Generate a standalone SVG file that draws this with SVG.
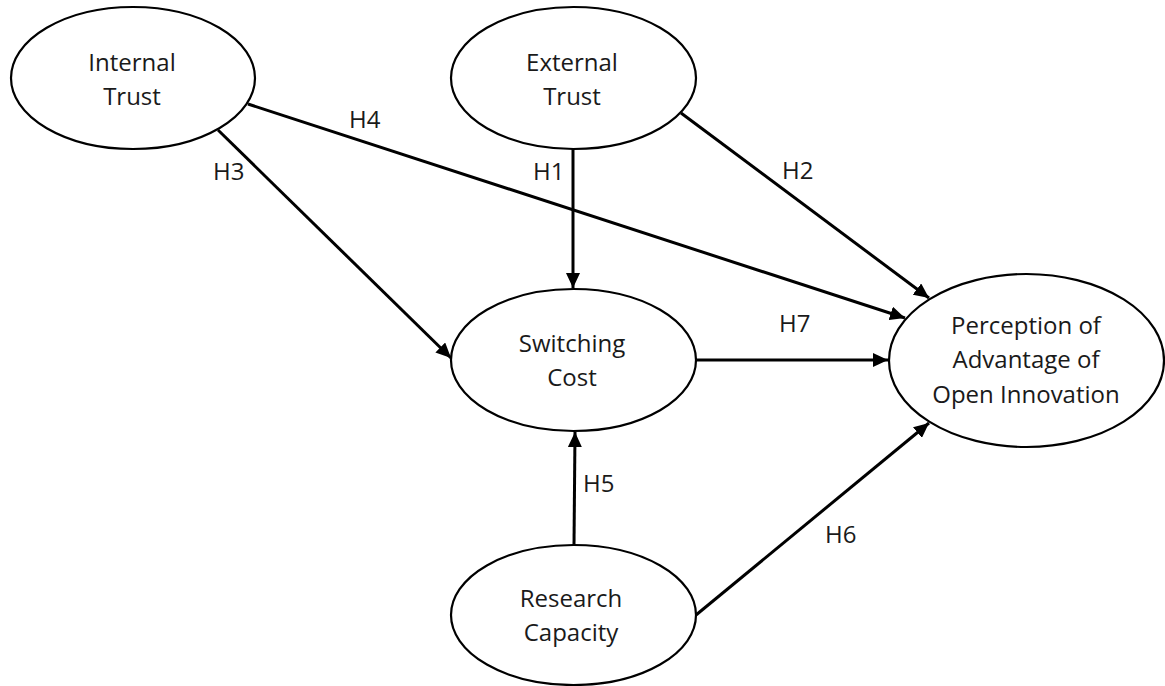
<svg xmlns="http://www.w3.org/2000/svg" width="1165" height="686" viewBox="0 0 1165 686">
<style>
.node ellipse{fill:#fff;stroke:#000;stroke-width:2.2}
.node text,.lbl{font-family:"Open Sans","Liberation Sans",sans-serif;font-size:24px;fill:#1a1a1a}
.node text{text-anchor:middle}
.edge{stroke:#000;stroke-width:3;fill:none;marker-end:url(#arr)}
</style>
<defs>
<marker id="arr" markerUnits="userSpaceOnUse" markerWidth="16" markerHeight="14" refX="15" refY="7" orient="auto">
<path d="M0,0 L15,7 L0,14 z" fill="#000"/>
</marker>
</defs>
<rect width="1165" height="686" fill="#fff"/>
<g id="connectors">
<line class="edge" x1="573" y1="149" x2="573" y2="288"/>
<line class="edge" x1="218" y1="130" x2="451" y2="358"/>
<line class="edge" x1="248" y1="104" x2="905" y2="318"/>
<line class="edge" x1="681" y1="113" x2="929" y2="298"/>
<line class="edge" x1="696" y1="360" x2="888" y2="360"/>
<line class="edge" x1="574" y1="545" x2="575" y2="432"/>
<line class="edge" x1="696" y1="615" x2="929" y2="423"/>
<text class="lbl" x="349" y="128">H4</text>
<text class="lbl" x="213" y="180">H3</text>
<text class="lbl" x="533" y="180">H1</text>
<text class="lbl" x="782" y="179">H2</text>
<text class="lbl" x="779" y="332">H7</text>
<text class="lbl" x="583" y="492">H5</text>
<text class="lbl" x="825" y="543">H6</text>
</g>
<g id="internal-trust" class="node">
<ellipse cx="133" cy="78" rx="122" ry="71"/>
<text x="132" y="71">Internal</text>
<text x="132" y="105">Trust</text>
</g>
<g id="external-trust" class="node">
<ellipse cx="573.5" cy="78" rx="122.5" ry="71"/>
<text x="572" y="71">External</text>
<text x="572" y="105">Trust</text>
</g>
<g id="switching-cost" class="node">
<ellipse cx="573.5" cy="360" rx="122.5" ry="71"/>
<text x="572" y="352">Switching</text>
<text x="572" y="386">Cost</text>
</g>
<g id="perception" class="node">
<ellipse cx="1026.5" cy="360.5" rx="137.5" ry="86.5"/>
<text x="1026" y="334">Perception of</text>
<text x="1026" y="368">Advantage of</text>
<text x="1026" y="403">Open Innovation</text>
</g>
<g id="research-capacity" class="node">
<ellipse cx="573.5" cy="615" rx="122.5" ry="70"/>
<text x="571" y="607">Research</text>
<text x="571" y="641">Capacity</text>
</g>
</svg>
